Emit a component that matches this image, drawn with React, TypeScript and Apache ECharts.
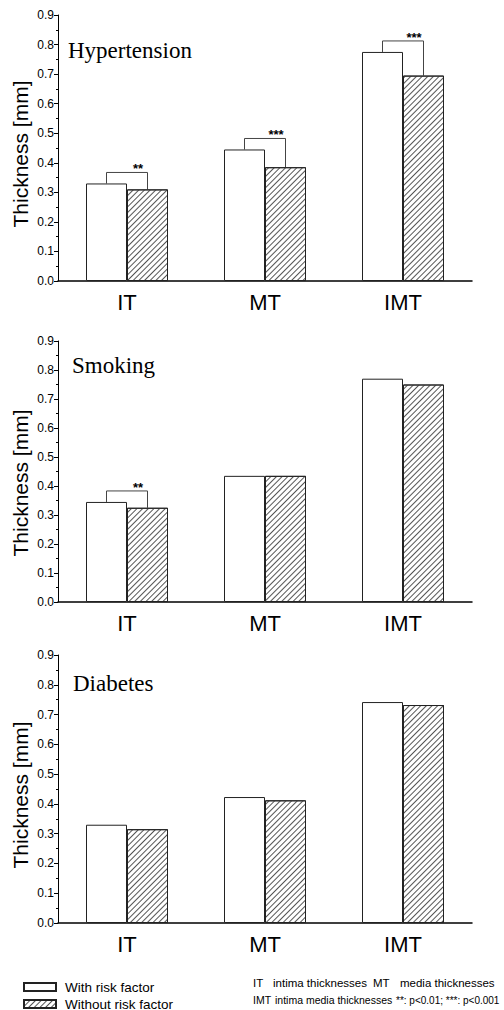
import React, { useEffect, useRef } from "react";
import * as echarts from "echarts";

const categories = ["IT", "MT", "IMT"];
const panelTitles = ["Hypertension", "Smoking", "Diabetes"];
const seriesNames = ["With risk factor", "Without risk factor"];

const hyperWith = [0.33, 0.445, 0.775];
const hyperWithout = [0.31, 0.385, 0.695];
const smokeWith = [0.345, 0.435, 0.77];
const smokeWithout = [0.325, 0.435, 0.75];
const diabWith = [0.33, 0.423, 0.742];
const diabWithout = [0.315, 0.412, 0.732];

const hyperSig = ["**", "***", "***"];
const smokeSig = ["**", "", ""];
const diabSig = ["", "", ""];

const yAxisName = "Thickness [mm]";
const noteLine1 = ["IT", "intima thicknesses", "MT", "media thicknesses"];
const noteLine2 = ["IMT", "intima media thicknesses", "**: p<0.01; ***: p<0.001"];

const SANS = "'Liberation Sans', Arial, sans-serif";
const SERIF = "'Liberation Serif', 'Times New Roman', serif";

const panels = [
  { withV: hyperWith, withoutV: hyperWithout, sig: hyperSig, top: 15, height: 266, titleX: 68, titleY: 50, nameY: 154 },
  { withV: smokeWith, withoutV: smokeWithout, sig: smokeSig, top: 341, height: 261, titleX: 72, titleY: 365, nameY: 483 },
  { withV: diabWith, withoutV: diabWithout, sig: diabSig, top: 655, height: 268, titleX: 73, titleY: 683, nameY: 795 },
];

const hatch = {
  symbol: "rect",
  symbolSize: 1,
  dashArrayX: [1, 0],
  dashArrayY: [1, 2.5],
  rotation: -Math.PI / 4,
  color: "#555",
  backgroundColor: "#fff",
};

export default function App() {
  const ref = useRef<HTMLDivElement>(null);
  useEffect(() => {
    if (!ref.current) return;
    const chart = echarts.init(ref.current, null, { renderer: "svg" });

    const grid: any[] = [];
    const xAxis: any[] = [];
    const yAxis: any[] = [];
    const series: any[] = [];
    const graphic: any[] = [];

    panels.forEach((p, i) => {
      grid.push({ left: 58, top: p.top, width: 414, height: p.height, containLabel: false });
      xAxis.push({
        type: "category",
        gridIndex: i,
        data: categories,
        axisLine: { lineStyle: { color: "#000", width: 1.5 } },
        axisTick: { show: false },
        axisLabel: { color: "#000", fontSize: 22, fontFamily: SANS, margin: 10, interval: 0 },
      });
      yAxis.push({
        type: "value",
        gridIndex: i,
        min: 0,
        max: 0.9,
        interval: 0.1,
        axisLine: { show: true, lineStyle: { color: "#000", width: 1 } },
        axisTick: { show: true, inside: false, length: 4, lineStyle: { color: "#000" } },
        minorTick: { show: true, splitNumber: 2, length: 2, lineStyle: { color: "#000" } },
        splitLine: { show: false },
        axisLabel: {
          color: "#000",
          fontSize: 12,
          fontFamily: SANS,
          margin: 4,
          formatter: (v: number) => v.toFixed(1),
        },
      });
      series.push({
        type: "bar",
        name: seriesNames[0],
        xAxisIndex: i,
        yAxisIndex: i,
        data: p.withV,
        barWidth: 41,
        barGap: "0%",
        itemStyle: { color: "#fff", borderColor: "#222", borderWidth: 1 },
      });
      series.push({
        type: "bar",
        name: seriesNames[1],
        xAxisIndex: i,
        yAxisIndex: i,
        data: p.withoutV,
        barWidth: 41,
        barGap: "0%",
        itemStyle: { color: "#fff", borderColor: "#222", borderWidth: 1, decal: hatch },
      });
      const bData: any[] = [];
      const bLabels: string[] = [];
      p.sig.forEach((s, k) => {
        if (s) {
          bData.push([k, p.withV[k], p.withoutV[k]]);
          bLabels.push(s);
        }
      });
      if (bData.length) {
        series.push({
          type: "custom",
          xAxisIndex: i,
          yAxisIndex: i,
          data: bData,
          encode: { x: 0, y: [1, 2] },
          clip: false,
          silent: true,
          renderItem: (params: any, api: any) => {
            const c = api.value(0);
            const a = api.coord([c, api.value(1)]);
            const b = api.coord([c, api.value(2)]);
            const xL = a[0] - 20.5;
            const xR = a[0] + 20.5;
            const top = Math.min(a[1], b[1]) - 11;
            return {
              type: "group",
              children: [
                {
                  type: "polyline",
                  shape: { points: [[xL, a[1]], [xL, top], [xR, top], [xR, b[1]]] },
                  style: { stroke: "#444", fill: null, lineWidth: 1 },
                },
                {
                  type: "text",
                  style: {
                    text: bLabels[params.dataIndex],
                    x: (xL + xR) / 2 + 11,
                    y: top + 3,
                    align: "center",
                    verticalAlign: "bottom",
                    fontSize: 13,
                    fontWeight: "bold",
                    fontFamily: SANS,
                    fill: "#000",
                  },
                },
              ],
            };
          },
        });
      }
      graphic.push({
        type: "text",
        x: p.titleX,
        y: p.titleY,
        style: { text: panelTitles[i], fontSize: 23, fontFamily: SERIF, fill: "#000", align: "left", verticalAlign: "middle" },
      });
      graphic.push({
        type: "text",
        x: 20,
        y: p.nameY,
        rotation: Math.PI / 2,
        style: { text: yAxisName, fontSize: 21, fontFamily: SANS, fill: "#000", align: "center", verticalAlign: "middle" },
      });
    });

    const note1Style = { fontSize: 11.5, fontFamily: SANS, fill: "#000", align: "left", verticalAlign: "middle" };
    const l1x = [253, 273, 373, 400];
    noteLine1.forEach((t, k) => graphic.push({ type: "text", x: l1x[k], y: 983, style: { ...note1Style, text: t } }));
    const l2x = [253, 275, 396];
    const l2size = [10.5, 10.5, 10];
    noteLine2.forEach((t, k) =>
      graphic.push({ type: "text", x: l2x[k], y: 1000, style: { ...note1Style, fontSize: l2size[k], text: t } })
    );

    const legendBase = {
      orient: "horizontal",
      left: 18,
      itemWidth: 32,
      itemHeight: 8,
      icon: "rect",
      textStyle: { color: "#000", fontSize: 13.5, fontFamily: SANS, padding: [0, 0, 0, 4] },
    };

    chart.setOption({
      animation: false,
      backgroundColor: "#fff",
      grid,
      xAxis,
      yAxis,
      series,
      graphic,
      legend: [
        { ...legendBase, top: 975, data: [seriesNames[0]] },
        { ...legendBase, top: 992, data: [seriesNames[1]] },
      ],
    });
    return () => chart.dispose();
  }, []);
  return <div ref={ref} style={{ position: "absolute", left: 0, top: 0, width: 504, height: 1010 }} />;
}
